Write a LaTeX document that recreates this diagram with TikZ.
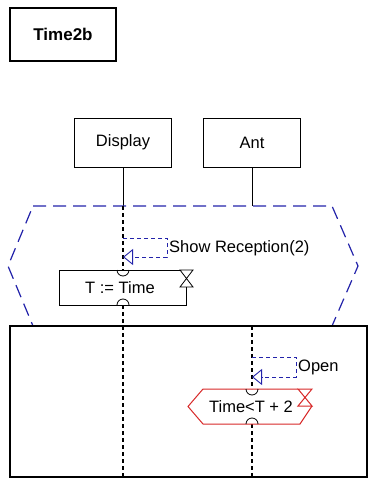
\documentclass[tikz,border=0pt]{standalone}
\usepackage{fontspec}
\setmainfont{Liberation Sans}
\usetikzlibrary{arrows.meta}
\definecolor{sdlblue}{RGB}{35, 35, 170}
\definecolor{sdlred}{RGB}{215, 40, 40}

\begin{document}
\begin{tikzpicture}[x=1pt, y=-1pt,
  instance/.style={draw, line width=0.8pt, minimum width=97pt, minimum height=49pt,
                   inner sep=0pt, font=\fontsize{16.5}{19}\selectfont},
  lifeline/.style={line width=0.8pt},
  lifedash/.style={line width=1.3pt, dash pattern=on 4pt off 3pt},
  hexdash/.style={draw=sdlblue, line width=1.2pt, dash pattern=on 13pt off 7pt},
  msg/.style={sdlblue, line width=0.9pt, dash pattern=on 4pt off 3pt,
              -{Triangle[open, length=10pt, width=16pt, line width=0.9pt]}},
  txt/.style={font=\fontsize{16.5}{19}\selectfont, inner sep=0pt},
  task/.style={line width=0.8pt, line join=miter}
]
  \useasboundingbox (0,0) rectangle (370,481);

  % diagram name
  \node[draw, line width=2pt, minimum width=106pt, minimum height=53pt,
        font=\fontsize{17}{21}\selectfont\bfseries] (title) at (63,34.5) {Time2b};

  % instances
  \node[instance] (disp) at (123,142.5) {Display};
  \node[instance] (ant)  at (252,142.5) {Ant};

  \coordinate (dtop) at (123,206);
  \coordinate (atop) at (252,206);
  \draw[lifeline] (disp.south) -- (dtop);
  \draw[lifeline] (ant.south) -- (atop);

  % inline expression frame (dashed hexagon)
  \draw[hexdash] (33,206) -- (332,206) -- (358,266) -- (332,326) -- (33,326) -- (8,266) -- cycle;

  % Display lifeline
  \coordinate (dass1) at (123,270);
  \coordinate (dass2) at (123,305);
  \coordinate (dbot)  at (123,477);
  \draw[lifedash] (dtop) -- (dass1);
  \draw[lifedash] (dass2) -- (dbot);

  % Show Reception(2)
  \coordinate (sr1) at (123,238);
  \coordinate (sr2) at (167,257);
  \coordinate (sr3) at (123,257);
  \draw[msg] (sr1) -| (sr2) -- (sr3);
  \node[txt, anchor=west] (srlab) at (169,248) {Show Reception(2)};

  % T := Time
  \draw[task] (180,270) -- (59,270) -- (59,305) -- (186.5,305) -- (186.5,287);
  \draw[task] (180,270) -- (193,270) -- (180,287) -- (193,287) -- cycle;
  \draw[task] (117,270) arc[start angle=180, end angle=360, radius=6pt];
  \draw[task] (117,305) arc[start angle=180, end angle=0, radius=6pt];
  \node[txt] (assign) at (120,287.5) {T := Time};

  % bottom frame
  \draw[line width=2.5pt] (10,326) rectangle (367,477);

  % Ant lifeline
  \coordinate (abox) at (252,326);
  \coordinate (acnd1) at (252,389);
  \coordinate (acnd2) at (252,424);
  \coordinate (abot) at (252,477);
  \draw[lifedash] (abox) -- (acnd1);
  \draw[lifedash] (acnd2) -- (abot);

  % Open
  \coordinate (op1) at (252,357);
  \coordinate (op2) at (296,377);
  \coordinate (op3) at (252,377);
  \draw[msg] (op1) -| (op2) -- (op3);
  \node[txt, anchor=west] (oplab) at (298,367) {Open};

  % Time<T + 2
  \draw[task, sdlred, line width=1pt] (298,389) -- (203,389) -- (188,406.5) -- (203,424) -- (300,424) -- (312,406);
  \draw[task, sdlred, line width=1pt] (298,389) -- (312,389) -- (298,406) -- (312,406) -- cycle;
  \draw[task] (246,389) arc[start angle=180, end angle=360, radius=6pt];
  \draw[task] (246,424) arc[start angle=180, end angle=0, radius=6pt];
  \node[txt] (cond) at (251,407) {Time<T + 2};
\end{tikzpicture}
\end{document}
